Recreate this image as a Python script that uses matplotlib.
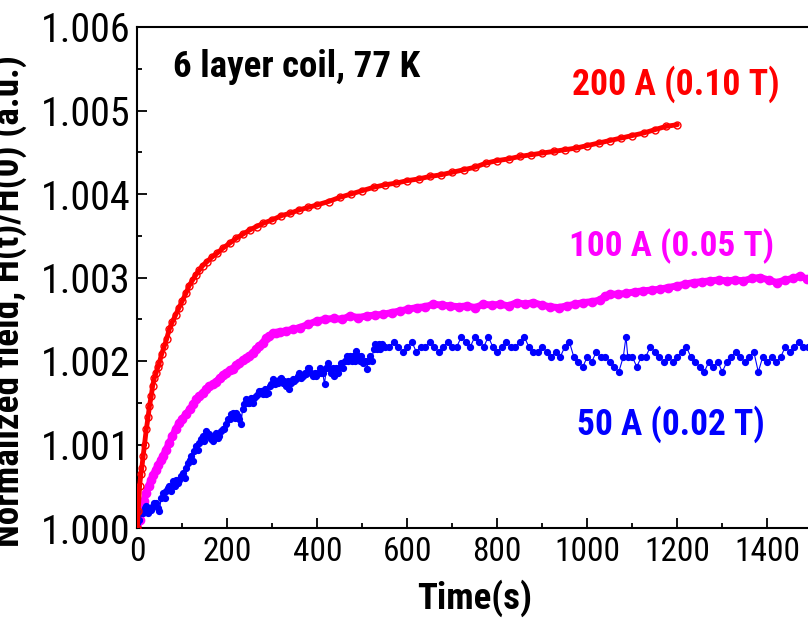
import matplotlib
matplotlib.use("Agg")
import matplotlib.pyplot as plt
from matplotlib import font_manager
from matplotlib.ticker import MultipleLocator, FormatStrFormatter

# ---------------- data ----------------
red_t = [0, 2, 5, 8, 10, 13, 16, 20, 24, 27, 31, 34, 38, 42, 46, 49, 54, 60, 65, 71,
         78, 85, 92, 100, 108, 115, 123, 130, 138, 145, 155, 165, 177, 190, 205, 220,
         235, 250, 265, 280, 300, 320, 340, 360, 380, 400, 425, 450, 475, 500, 525,
         550, 575, 600, 625, 650, 675, 700, 725, 750, 775, 800, 825, 850, 875, 900,
         925, 950, 975, 1000, 1025, 1050, 1075, 1100, 1125, 1150, 1175, 1200]
red_v = [1.00000, 1.00020, 1.00050, 1.00065, 1.00072, 1.00086, 1.00100, 1.00118,
         1.00133, 1.00146, 1.00158, 1.00170, 1.00180, 1.00186, 1.00193, 1.00198,
         1.00208, 1.00218, 1.00226, 1.00238, 1.00247, 1.00255, 1.00263, 1.00272,
         1.00281, 1.00290, 1.00297, 1.00303, 1.00309, 1.00314, 1.00319, 1.00324,
         1.00329, 1.00335, 1.00341, 1.00347, 1.00352, 1.00357, 1.00361, 1.00365,
         1.00369, 1.00374, 1.00377, 1.00381, 1.00384, 1.00387, 1.00391, 1.00396,
         1.00400, 1.00404, 1.00408, 1.00411, 1.00413, 1.00416, 1.00418, 1.00421,
         1.00423, 1.00426, 1.00429, 1.00432, 1.00437, 1.00440, 1.00442, 1.00445,
         1.00447, 1.00449, 1.00451, 1.00453, 1.00455, 1.00458, 1.00461, 1.00464,
         1.00467, 1.00470, 1.00473, 1.00477, 1.00481, 1.00483]

mag_t = [0, 5, 10, 15, 19, 25, 30, 35, 41, 47, 52, 57, 63, 71, 78, 85, 93, 100, 108,
         116, 124, 131, 138, 145, 153, 160, 168, 175, 183, 190, 197, 205, 212, 219,
         227, 234, 241, 249, 256, 264, 271, 279, 286, 293, 301, 308, 316, 330, 345,
         361, 380, 399, 418, 436, 455, 473, 491, 510, 528, 547, 565, 584, 602, 621,
         640, 658, 677, 695, 714, 732, 751, 769, 788, 806, 825, 843, 862, 880, 899,
         917, 936, 954, 973, 991, 1010, 1028, 1040, 1050, 1069, 1087, 1106, 1124,
         1143, 1161, 1180, 1199, 1217, 1236, 1255, 1273, 1292, 1310, 1329, 1347,
         1366, 1384, 1403, 1421, 1440, 1458, 1473, 1488, 1500]
mag_v = [1.00000, 1.00010, 1.00020, 1.00032, 1.00042, 1.00050, 1.00057, 1.00063,
         1.00070, 1.00076, 1.00081, 1.00086, 1.00093, 1.00102, 1.00110, 1.00118,
         1.00126, 1.00131, 1.00136, 1.00142, 1.00148, 1.00154, 1.00158, 1.00162,
         1.00166, 1.00170, 1.00172, 1.00175, 1.00180, 1.00183, 1.00186, 1.00189,
         1.00191, 1.00195, 1.00198, 1.00201, 1.00203, 1.00206, 1.00210, 1.00214,
         1.00218, 1.00222, 1.00227, 1.00230, 1.00233, 1.00234, 1.00235, 1.00236,
         1.00238, 1.00240, 1.00244, 1.00248, 1.00250, 1.00251, 1.00250, 1.00254,
         1.00252, 1.00254, 1.00255, 1.00256, 1.00258, 1.00260, 1.00262, 1.00264,
         1.00265, 1.00268, 1.00267, 1.00266, 1.00265, 1.00266, 1.00264, 1.00268,
         1.00267, 1.00268, 1.00266, 1.00270, 1.00268, 1.00270, 1.00267, 1.00265,
         1.00264, 1.00266, 1.00268, 1.00270, 1.00271, 1.00273, 1.00278, 1.00280,
         1.00280, 1.00281, 1.00283, 1.00284, 1.00285, 1.00286, 1.00288, 1.00290,
         1.00292, 1.00294, 1.00295, 1.00296, 1.00297, 1.00296, 1.00297, 1.00296,
         1.00299, 1.00300, 1.00297, 1.00294, 1.00297, 1.00299, 1.00302, 1.00298,
         1.00300]

blue_t = [0, 4, 8, 12, 16, 19, 23, 27, 30, 34, 38, 41, 45, 49, 53, 57, 61, 64, 68,
          71, 75, 79, 83, 86, 90, 93, 97, 101, 105, 108, 112, 116, 119, 123, 127,
          130, 134, 138, 141, 145, 149, 153, 157, 160, 164, 168, 171, 175, 179, 182,
          186, 190, 193, 197, 201, 205, 208, 212, 216, 219, 223, 227, 230, 234, 238,
          242, 245, 249, 253, 256, 260, 264, 268, 271, 275, 279, 283, 286, 290, 294,
          297, 301, 305, 309, 312, 316, 320, 323, 327, 331, 334, 338, 342, 346, 349,
          353, 357, 360, 364, 368, 372, 375, 379, 382, 386, 390, 394, 397, 401, 405,
          408, 412, 416, 420, 423, 427, 431, 434, 438, 442, 446, 449, 453, 457, 461,
          465, 468, 472, 476, 480, 483, 487, 491, 495, 498, 502, 506, 510, 513, 517,
          521, 525, 528, 532, 536, 540, 543,
          550, 560, 570, 580, 590, 600, 610, 620, 630, 640, 650, 660, 670, 680, 690,
          700, 710, 720, 730, 740, 750, 760, 770, 780, 790, 800, 810, 820, 830, 840,
          850, 860, 870, 880, 890, 900, 910, 920, 930, 940, 950, 960, 970, 980, 990,
          1000, 1010, 1020, 1030, 1040, 1050, 1060, 1070, 1080, 1086, 1090, 1100,
          1110, 1120, 1130, 1140, 1150, 1160, 1170, 1180, 1190, 1200, 1210, 1220,
          1230, 1240, 1250, 1260, 1270, 1280, 1290, 1300, 1310, 1320, 1330, 1340,
          1350, 1360, 1370, 1380, 1390, 1400, 1410, 1420, 1430, 1440, 1450, 1460,
          1470, 1480, 1490, 1500]
blue_v = [1.00006, 1.00010, 1.00018, 1.00018, 1.00024, 1.00026, 1.00018, 1.00024,
          1.00022, 1.00026, 1.00030, 1.00030, 1.00024, 1.00020, 1.00036, 1.00042,
          1.00036, 1.00044, 1.00048, 1.00050, 1.00044, 1.00056, 1.00050, 1.00058,
          1.00054, 1.00058, 1.00062, 1.00066, 1.00060, 1.00072, 1.00078, 1.00082,
          1.00086, 1.00080, 1.00092, 1.00098, 1.00094, 1.00102, 1.00106, 1.00110,
          1.00104, 1.00116, 1.00110, 1.00112, 1.00106, 1.00104, 1.00110, 1.00114,
          1.00108, 1.00110, 1.00116, 1.00118, 1.00118, 1.00124, 1.00130, 1.00130,
          1.00136, 1.00138, 1.00132, 1.00138, 1.00134, 1.00130, 1.00124, 1.00142,
          1.00148, 1.00154, 1.00150, 1.00150, 1.00156, 1.00150, 1.00156, 1.00158,
          1.00160, 1.00164, 1.00164, 1.00160, 1.00166, 1.00160, 1.00162, 1.00170,
          1.00172, 1.00178, 1.00172, 1.00176, 1.00174, 1.00178, 1.00180, 1.00174,
          1.00176, 1.00170, 1.00176, 1.00166, 1.00174, 1.00178, 1.00176, 1.00178,
          1.00182, 1.00186, 1.00180, 1.00182, 1.00186, 1.00184, 1.00192, 1.00192,
          1.00186, 1.00182, 1.00186, 1.00182, 1.00186, 1.00192, 1.00186, 1.00186,
          1.00172, 1.00192, 1.00198, 1.00192, 1.00186, 1.00192, 1.00182, 1.00192,
          1.00186, 1.00192, 1.00198, 1.00192, 1.00200, 1.00206, 1.00200, 1.00206,
          1.00200, 1.00206, 1.00200, 1.00212, 1.00206, 1.00200, 1.00206, 1.00198,
          1.00200, 1.00190, 1.00200, 1.00206, 1.00200, 1.00214, 1.00220, 1.00214,
          1.00220, 1.00214, 1.00220,
          1.00217, 1.00217, 1.00223, 1.00217, 1.00211, 1.00217, 1.00223, 1.00211,
          1.00217, 1.00217, 1.00223, 1.00217, 1.00211, 1.00217, 1.00223, 1.00217,
          1.00217, 1.00229, 1.00223, 1.00217, 1.00229, 1.00223, 1.00217, 1.00229,
          1.00217, 1.00211, 1.00217, 1.00223, 1.00217, 1.00217, 1.00223, 1.00229,
          1.00217, 1.00211, 1.00211, 1.00217, 1.00211, 1.00205, 1.00211, 1.00205,
          1.00217, 1.00223, 1.00205, 1.00199, 1.00193, 1.00205, 1.00199, 1.00211,
          1.00205, 1.00205, 1.00199, 1.00193, 1.00187, 1.00205, 1.00229, 1.00205,
          1.00205, 1.00193, 1.00205, 1.00205, 1.00217, 1.00211, 1.00205, 1.00199,
          1.00205, 1.00199, 1.00205, 1.00211, 1.00217, 1.00205, 1.00199, 1.00193,
          1.00187, 1.00199, 1.00193, 1.00199, 1.00187, 1.00199, 1.00205, 1.00211,
          1.00205, 1.00199, 1.00205, 1.00211, 1.00187, 1.00205, 1.00199, 1.00205,
          1.00199, 1.00205, 1.00217, 1.00211, 1.00217, 1.00223, 1.00217, 1.00217,
          1.00211]

x_ticks = [0, 200, 400, 600, 800, 1000, 1200, 1400]
y_ticks = [1.000, 1.001, 1.002, 1.003, 1.004, 1.005, 1.006]

title_text = "6 layer coil, 77 K"
label_red = "200 A (0.10 T)"
label_mag = "100 A (0.05 T)"
label_blue = "50 A (0.02 T)"
x_label = "Time(s)"
y_label = "Normalized field, H(t)/H(0) (a.u.)"

# ---------------- font choice ----------------
available = {f.name for f in font_manager.fontManager.ttflist}
candidates = ["Roboto Condensed", "Open Sans Condensed", "Liberation Sans Narrow",
              "Noto Sans Condensed", "Lato"]
chosen = [c for c in candidates if c in available] + ["DejaVu Sans"]
FONT = [chosen[0], "DejaVu Sans"]
plt.rcParams["font.family"] = FONT

W, H = 808, 618
fig = plt.figure(figsize=(W / 100, H / 100), dpi=100)


def fx(px):
    return px / W


def fy(py):
    return 1 - py / H


ax_l, ax_r, ax_t, ax_b = 137.3, 812.3, 27.0, 528.0
ax = fig.add_axes([fx(ax_l), fy(ax_b), (ax_r - ax_l) / W, (ax_b - ax_t) / H])

RED, MAG, BLUE = "#ff0000", "#ff00ff", "#0000ff"

ax.plot(mag_t, mag_v, color=MAG, lw=5.0, solid_capstyle="round",
        solid_joinstyle="round", marker="o", ms=6.0, mec=MAG, mfc=MAG, zorder=2)
ax.plot(blue_t, blue_v, color=BLUE, lw=0.8,
        marker="o", ms=4.2, mec=BLUE, mfc=BLUE, zorder=3)
ax.plot(red_t, red_v, color=RED, lw=3.5, solid_capstyle="round",
        solid_joinstyle="round", marker="o", ms=5.0, mec=RED, mfc="none",
        mew=1.0, zorder=4)

ax.set_xlim(0, 1500)
ax.set_ylim(1.000, 1.006)
ax.set_xticks(x_ticks)
ax.set_yticks(y_ticks)
ax.xaxis.set_minor_locator(MultipleLocator(100))
ax.yaxis.set_minor_locator(MultipleLocator(0.0005))
ax.yaxis.set_major_formatter(FormatStrFormatter("%.3f"))

for s in ax.spines.values():
    s.set_linewidth(1.5)
ax.tick_params(which="both", direction="in", top=False, right=False,
               width=1.3, colors="black")
ax.tick_params(which="major", length=7.5)
ax.tick_params(which="minor", length=3.8)
ax.tick_params(axis="y", pad=5)
ax.tick_params(axis="x", pad=6)

bold = dict(fontweight="bold")
t_x = fig.text(fx(475), fy(598), x_label, ha="center", va="center",
               fontsize=28, **bold)
t_y = fig.text(fx(19), fy(301), y_label, rotation=90, rotation_mode="anchor",
               ha="center", va="baseline", fontsize=28, **bold)
t_title = fig.text(fx(173), fy(77), title_text, ha="left", va="baseline",
                   fontsize=27, color="black", **bold)
t_red = fig.text(fx(676), fy(95), label_red, ha="center", va="baseline",
                 fontsize=27, color=RED, **bold)
t_mag = fig.text(fx(672), fy(256), label_mag, ha="center", va="baseline",
                 fontsize=27, color=MAG, **bold)
t_blue = fig.text(fx(671), fy(435), label_blue, ha="center", va="baseline",
                  fontsize=27, color=BLUE, **bold)

# fit font sizes so text widths match the reference
renderer = fig.canvas.get_renderer()


def fit(t, target, vertical=False):
    for _ in range(3):
        bb = t.get_window_extent(renderer)
        cur = bb.height if vertical else bb.width
        t.set_fontsize(t.get_fontsize() * target / cur)


fit(t_x, 115)
fit(t_y, 492, vertical=True)
fit(t_title, 247)
fit(t_red, 207)
fit(t_mag, 205)
fit(t_blue, 188)

# tick label size: fit "1.006" to ~90 px and "1400" to ~66 px
ax.tick_params(labelsize=29)
fig.canvas.draw()
yl = [lb for lb in ax.get_yticklabels() if lb.get_text() == "1.006"][0]
xl = [lb for lb in ax.get_xticklabels() if lb.get_text() == "1400"][0]
sy = 29 * 90 / yl.get_window_extent(renderer).width
sx = 29 * 66 / xl.get_window_extent(renderer).width
ax.tick_params(axis="y", labelsize=min(sy, 31))
ax.tick_params(axis="x", labelsize=min(sx, 31))

fig.savefig("out.png", dpi=100)
